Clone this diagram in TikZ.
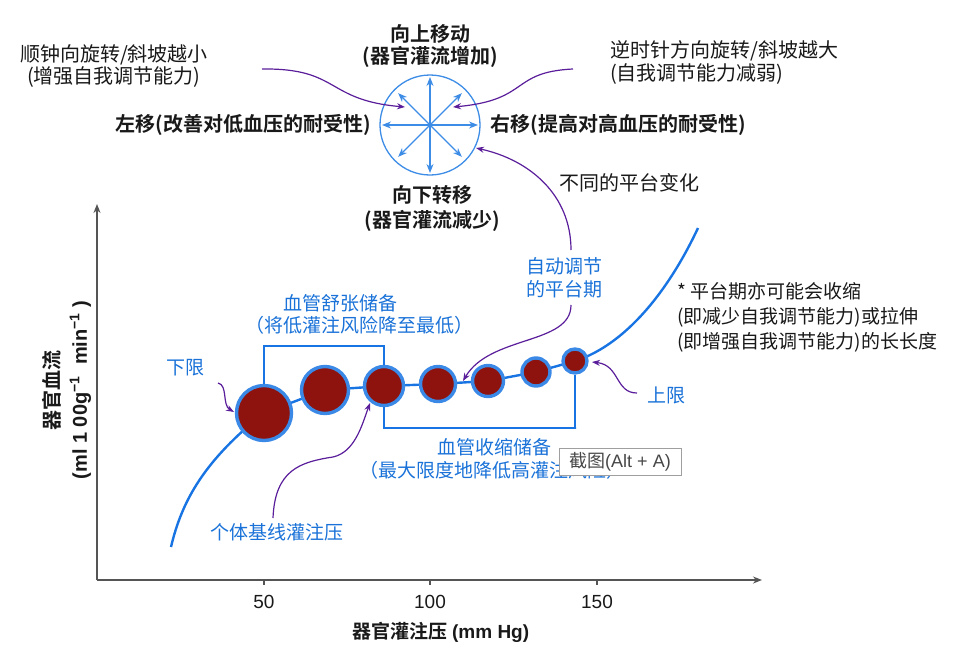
\documentclass[tikz,border=0pt]{standalone}
\usepackage{fontspec}
\setmainfont{Noto Sans CJK SC}[BoldFont={Noto Sans CJK SC Bold}]
\newfontfamily\lib{Liberation Sans}
\usetikzlibrary{arrows.meta,calc}
\definecolor{lineblue}{HTML}{1874E2}
\definecolor{txtblue}{HTML}{1A72D8}
\definecolor{ringblue}{HTML}{3D8CE6}
\definecolor{purp}{HTML}{5A1E9B}
\definecolor{ballred}{HTML}{8E120D}
\definecolor{axisgray}{HTML}{555555}
\begin{document}
\begin{tikzpicture}[x=1pt,y=-1pt,
  bk/.style={font=\fontsize{20}{22}\selectfont\bfseries, text=black!90, align=center, inner sep=0pt},
  tx/.style={font=\fontsize{20}{23}\selectfont, text=black!90, inner sep=0pt},
  bl/.style={font=\fontsize{19}{23}\selectfont, text=txtblue, inner sep=0pt, align=center},
  ball/.style={circle, fill=ballred, draw=lineblue!85!white, line width=3.4pt, inner sep=0pt},
  bracket/.style={draw=lineblue, line width=2.6pt},
  curve/.style={draw=lineblue, line width=2.4pt},
  parr/.style={draw=purp, line width=1.2pt, -{Stealth[length=8pt,width=6pt]}},
  carr/.style={draw=ringblue, line width=1.2pt, -{Stealth[length=9pt,width=7pt]}},
  axis/.style={draw=axisgray, line width=1.4pt, -{Stealth[length=9pt,width=7pt]}},
]
\useasboundingbox (0,0) rectangle (962,646);

% axes
\coordinate (O) at (97,580);
\coordinate (Ytop) at (97,204);
\coordinate (Xend) at (762,580);
\draw[axis] (O) -- (Ytop);
\draw[axis] (O) -- (Xend);
\foreach \x/\l in {264/50,430/100,597/150}{
  \draw[axisgray, line width=1.4pt] (\x,580) -- (\x,585);
  \node[font=\lib\fontsize{19}{22}\selectfont, text=black!90] (t\l) at (\x,602) {\l};
}
\node[font=\fontsize{19}{22}\selectfont\bfseries, text=black!90] (xl) at (441,632) {器官灌注压 {\lib (mm Hg)}};
\node[rotate=90, font=\fontsize{20}{27}\selectfont\bfseries, align=center, text=black!90] (yl) at (67,390)
  {器官血流\\{\lib (ml 1 00g\textsuperscript{−1}\ \ min\textsuperscript{−1} )}};

% blue curve and plateau line
\coordinate (p1) at (264,413);
\coordinate (p2) at (325,390);
\coordinate (p3) at (384,386);
\coordinate (p4) at (438,384);
\coordinate (p5) at (488,381);
\coordinate (p6) at (536,372);
\coordinate (p7) at (575,361);
\coordinate (cstart) at (171,547);
\coordinate (cend) at (698,228);
\draw[curve] (cstart) .. controls (182,500) and (205,460) .. (p1);
\draw[curve] (p7) .. controls (625,345) and (668,292) .. (cend);
\draw[curve] (p1) -- (p2) -- (p3) -- (p4) -- (p5) -- (p6) -- (p7);

\node[ball, minimum size=55pt] (c1) at (p1) {};
\node[ball, minimum size=47pt] (c2) at (p2) {};
\node[ball, minimum size=39pt] (c3) at (p3) {};
\node[ball, minimum size=35pt] (c4) at (p4) {};
\node[ball, minimum size=31pt] (c5) at (p5) {};
\node[ball, minimum size=28pt] (c6) at (p6) {};
\node[ball, minimum size=24pt] (c7) at (p7) {};

% reserve brackets
\draw[bracket] (c1.north) |- (384,346) -| (c3.north);
\draw[bracket] (c3.south) |- (576,428) -| (c7.south);

% compass
\node[circle, draw=ringblue, line width=1.3pt, minimum size=100pt, inner sep=0pt] (comp) at (430,125) {};
\foreach \a in {0,90,180,270} \draw[carr] (comp.center) -- ++(\a:48pt);
\foreach \a in {45,135,225,315} \draw[carr] (comp.center) -- ++(\a:45pt);

% texts around compass
\node[tx, align=center, font=\fontsize{20}{22}\selectfont] (cw) at (114,66) {顺钟向旋转/斜坡越小\\(增强自我调节能力)};
\node[bk] (upt) at (430,46) {向上移动\\(器官灌流增加)};
\node[bk] (lt) at (243,125) {左移(改善对低血压的耐受性)};
\node[bk] (rt) at (618,125) {右移(提高对高血压的耐受性)};
\node[bk, font=\fontsize{20}{25}\selectfont\bfseries] (dn) at (432,209) {向下转移\\(器官灌流减少)};
\node[tx, anchor=west, align=left] (ccw) at (610,62) {逆时针方向旋转/斜坡越大\\(自我调节能力减弱)};
\node[tx] (plat) at (629,183) {不同的平台变化};
\node[tx, anchor=west, align=left, font=\fontsize{19}{25}\selectfont] (note) at (677,317)
  {* 平台期亦可能会收缩\\(即减少自我调节能力)或拉伸\\(即增强自我调节能力)的长长度};

% blue labels
\node[bl] (auto) at (564,278) {自动调节\\的平台期};
\node[bl] (low) at (185,368) {下限};
\node[bl] (upp) at (666,395) {上限};
\node[bl] (vd1) at (340,303) {血管舒张储备};
\node[bl] (vd2) at (359,325) {（将低灌注风险降至最低）};
\node[bl] (vc1) at (494,447) {血管收缩储备};
\node[bl] (vc2) at (492,470) {（最大限度地降低高灌注风险）};
\node[bl] (base) at (277,532) {个体基线灌注压};

% purple arrows
\coordinate (a1s) at (262,69);  \coordinate (a1e) at (405,107);
\coordinate (a2s) at (573,69);  \coordinate (a2e) at (453,107);
\coordinate (a3s) at (571,250); \coordinate (a3e) at (476,148);
\coordinate (a4s) at (571,305); \coordinate (a4e) at (463,381);
\coordinate (a5s) at (218,383); \coordinate (a5e) at (234,412);
\coordinate (a6s) at (637,393); \coordinate (a6e) at (592,362);
\coordinate (a7s) at (273,518); \coordinate (a7e) at (370,403);
\draw[parr] (a1s) .. controls (340,68) and (325,100) .. (a1e);
\draw[parr] (a2s) .. controls (510,72) and (530,100) .. (a2e);
\draw[parr] (a3s) .. controls (571,195) and (530,160) .. (a3e);
\draw[parr] (a4s) .. controls (571,345) and (490,335) .. (a4e);
\draw[parr] (a5s) .. controls (228,385) and (222,405) .. (a5e);
\draw[parr] (a6s) .. controls (615,393) and (620,365) .. (a6e);
\draw[parr] (a7s) .. controls (275,470) and (300,462) .. (333,457) .. controls (355,452) and (362,425) .. (a7e);

% tooltip overlay
\node[draw=gray!75, fill=white, line width=0.9pt, minimum width=122pt, minimum height=27pt, inner sep=0pt,
  font=\fontsize{18}{20}\selectfont, text=black!72] (tip) at (620,461.5) {截图{\lib (Alt + A)}};
\end{tikzpicture}
\end{document}
